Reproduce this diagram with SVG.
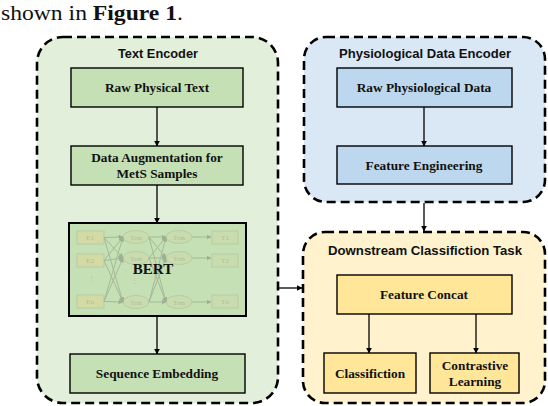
<svg xmlns="http://www.w3.org/2000/svg" width="548" height="406" viewBox="0 0 548 406">
<defs>
<marker id="ah" viewBox="0 0 10 10" refX="9" refY="5" markerWidth="6" markerHeight="6" orient="auto" markerUnits="userSpaceOnUse">
<path d="M0,0 L10,5 L0,10 z" fill="#000"/>
</marker>
<marker id="ah2" viewBox="0 0 10 10" refX="9" refY="5" markerWidth="5" markerHeight="5" orient="auto" markerUnits="userSpaceOnUse">
<path d="M0,0 L10,5 L0,10 z" fill="#9aa78f"/>
</marker>
<style>
.cont{stroke:#000;stroke-width:2.6;stroke-dasharray:9 5}
.title{font-family:"Liberation Sans",Arial,sans-serif;font-weight:bold;font-size:12.5px;text-anchor:middle;fill:#111}
.box{stroke:#000;stroke-width:1.4}
.lbl{font-family:"Liberation Serif","Times New Roman",serif;font-weight:bold;font-size:13.3px;text-anchor:middle;fill:#111}
.conn{stroke:#000;stroke-width:1.3;fill:none}
.faint{stroke:#9fb394;stroke-width:1;fill:none}
.fbox{fill:#c9dcae;stroke:#b6c9a3;stroke-width:1}
.ebox{fill:#d6d9a2;stroke:#b6c9a3;stroke-width:1}
.ftxt{font-family:"Liberation Serif",serif;font-size:7px;fill:#a9b89c;text-anchor:middle}
</style>
</defs>
<rect width="548" height="406" fill="#fff"/>
<text x="1" y="20" font-family="Liberation Serif,'Times New Roman',serif" font-size="21" fill="#111" textLength="182" lengthAdjust="spacingAndGlyphs">shown in <tspan font-weight="bold">Figure 1</tspan>.</text>

<g id="text-encoder">
<rect class="cont" x="37" y="37" width="241" height="366" rx="26" fill="#e2efda"/>
<text class="title" x="158" y="58" textLength="80" lengthAdjust="spacingAndGlyphs">Text Encoder</text>
</g>
<g id="phys-encoder">
<rect class="cont" x="304" y="37" width="241" height="165" rx="22" fill="#dae8f6"/>
<text class="title" x="425" y="58" textLength="172" lengthAdjust="spacingAndGlyphs">Physiological Data Encoder</text>
</g>
<g id="downstream">
<rect class="cont" x="303" y="232" width="242" height="171" rx="22" fill="#fff2cc"/>
<text class="title" x="425" y="255" textLength="194" lengthAdjust="spacingAndGlyphs">Downstream Classifiction Task</text>
</g>

<g id="raw-text">
<rect class="box" x="71" y="68" width="172" height="39" fill="#c5e0b4"/>
<text class="lbl" x="157" y="92">Raw Physical Text</text>
</g>
<g id="data-aug">
<rect class="box" x="71" y="146" width="172" height="39" fill="#c5e0b4"/>
<text class="lbl" x="157" y="162">Data Augmentation for</text>
<text class="lbl" x="157" y="178">MetS Samples</text>
</g>
<g id="bert">
<rect x="69" y="223" width="177" height="93" fill="#c5e0b4" stroke="#000" stroke-width="2"/>
<g opacity="0.85">
<rect class="ebox" x="77" y="231" width="27" height="13"/>
<rect class="ebox" x="77" y="254" width="27" height="13"/>
<rect class="ebox" x="77" y="295" width="27" height="13"/>
<text class="ftxt" x="90" y="240">E1</text>
<text class="ftxt" x="90" y="263">E2</text>
<text class="ftxt" x="90" y="304">En</text>
<ellipse class="fbox" cx="136" cy="237" rx="13" ry="6.5"/>
<ellipse class="fbox" cx="136" cy="258" rx="13" ry="6.5"/>
<ellipse class="fbox" cx="136" cy="302" rx="13" ry="6.5"/>
<ellipse class="fbox" cx="179" cy="237" rx="13" ry="6.5"/>
<ellipse class="fbox" cx="179" cy="258" rx="13" ry="6.5"/>
<ellipse class="fbox" cx="179" cy="302" rx="13" ry="6.5"/>
<text class="ftxt" x="136" y="239.5">Trm</text>
<text class="ftxt" x="136" y="260.5">Trm</text>
<text class="ftxt" x="136" y="304.5">Trm</text>
<text class="ftxt" x="179" y="239.5">Trm</text>
<text class="ftxt" x="179" y="260.5">Trm</text>
<text class="ftxt" x="179" y="304.5">Trm</text>
<rect class="fbox" x="212" y="231" width="26" height="13"/>
<rect class="fbox" x="212" y="254" width="26" height="13"/>
<rect class="fbox" x="212" y="295" width="26" height="13"/>
<text class="ftxt" x="225" y="240">T1</text>
<text class="ftxt" x="225" y="263">T2</text>
<text class="ftxt" x="225" y="304">Tn</text>
<g class="faint" marker-end="url(#ah2)">
<path d="M104,237.5 L123,237"/><path d="M104,237.5 L123,258"/><path d="M104,237.5 L123,302"/>
<path d="M104,260.5 L123,237"/><path d="M104,260.5 L123,258"/><path d="M104,260.5 L123,302"/>
<path d="M104,301.5 L123,237"/><path d="M104,301.5 L123,258"/><path d="M104,301.5 L123,302"/>
<path d="M149,237 L166,237"/><path d="M149,237 L166,258"/><path d="M149,237 L166,302"/>
<path d="M149,258 L166,237"/><path d="M149,258 L166,258"/><path d="M149,258 L166,302"/>
<path d="M149,302 L166,237"/><path d="M149,302 L166,258"/><path d="M149,302 L166,302"/>
<path d="M192,237 L211,237"/><path d="M192,258 L211,258"/><path d="M192,302 L211,302"/>
</g>
<text class="ftxt" x="91" y="281" font-size="9">⋮</text>
<text class="ftxt" x="134" y="283" font-size="9">⋮</text>
</g>
<text x="153" y="274" font-family="Liberation Serif,'Times New Roman',serif" font-weight="bold" font-size="15" text-anchor="middle" fill="#111">BERT</text>
</g>
<g id="seq-emb">
<rect class="box" x="70" y="354" width="175" height="39" fill="#c5e0b4"/>
<text class="lbl" x="157" y="378">Sequence Embedding</text>
</g>

<g id="raw-phys">
<rect class="box" x="337" y="68" width="175" height="39" fill="#bdd7ee"/>
<text class="lbl" x="424" y="92">Raw Physiological Data</text>
</g>
<g id="feat-eng">
<rect class="box" x="337" y="146" width="175" height="38" fill="#bdd7ee"/>
<text class="lbl" x="424" y="170">Feature Engineering</text>
</g>

<g id="feat-concat">
<rect class="box" x="337" y="275" width="175" height="39" fill="#ffe699"/>
<text class="lbl" x="424" y="299">Feature Concat</text>
</g>
<g id="classif">
<rect class="box" x="324" y="353" width="92" height="40" fill="#ffe699"/>
<text class="lbl" x="370" y="378">Classifiction</text>
</g>
<g id="contrastive">
<rect class="box" x="430" y="353" width="89" height="40" fill="#ffe699"/>
<text class="lbl" x="475" y="370">Contrastive</text>
<text class="lbl" x="475" y="386">Learning</text>
</g>

<g id="connectors" class="conn" marker-end="url(#ah)">
<path d="M157,107 L157,146"/>
<path d="M157,185 L157,223"/>
<path d="M157,316 L157,354"/>
<path d="M424,107 L424,146"/>
<path d="M424,203 L424,231"/>
<path d="M279,288 L302,288"/>
<path d="M369,314 L369,353"/>
<path d="M476,314 L476,353"/>
</g>
</svg>
